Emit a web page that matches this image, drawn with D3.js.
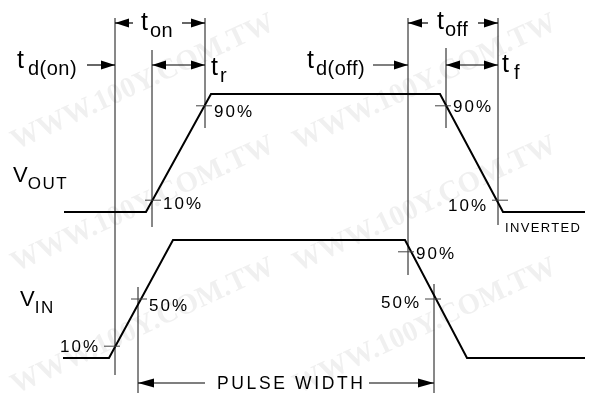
<!DOCTYPE html>
<html>
<head>
<meta charset="utf-8">
<script src="https://cdn.jsdelivr.net/npm/d3@7"></script>
<style>
  body { margin: 0; background: #fff; }
  svg { display: block; }
  text { font-family: "Liberation Sans", Arial, Helvetica, sans-serif; fill: #000; }
</style>
</head>
<body>
<script>
// waveform corners: time (arbitrary units) and normalised level 0..1
const voutTimes = [0, 16.4, 29.4, 75.2, 87.8, 104.2];
const voutLevels = [0, 0, 1, 1, 0, 0];
const vinTimes = [-0.2, 9, 21.8, 68.2, 80.6, 104.2];
const vinLevels = [0, 0, 1, 1, 0, 0];

// timing reference lines
const markerNames = ["tdon", "trStart", "tonEnd", "tdoff", "tfStart", "toffEnd", "pwStart", "pwEnd"];
const markerTimes = [10.2, 17.6, 28.2, 68.8, 76.4, 86.8, 14.8, 74];

// percentage ticks on the edges
const tickWave = ["out", "out", "out", "out", "in", "in", "in", "in"];
const tickLevel = [0.9, 0.1, 0.9, 0.1, 0.1, 0.5, 0.9, 0.5];
const tickTime = [28, 17.8, 75.8, 87.2, 9.6, 15, 68.4, 73.8];
const tickLabels = ["90%", "10%", "90%", "10%", "10%", "50%", "90%", "50%"];

const W = 590, H = 400;
const svg = d3.select("body").append("svg").attr("width", W).attr("height", H);

const x = d3.scaleLinear().domain([0, 104.2]).range([64, 585]);
const yOut = d3.scaleLinear().domain([0, 1]).range([212, 94]);
const yIn = d3.scaleLinear().domain([0, 1]).range([358, 240]);
const yOf = w => w === "out" ? yOut : yIn;
const mt = name => x(markerTimes[markerNames.indexOf(name)]);

// faint site watermark, kept whole inside the frame
const wm = svg.append("g").attr("opacity", 0.06);
[[16, 150], [298, 150], [16, 272], [298, 272], [16, 394], [298, 394]].forEach(([wx, wy]) => {
  wm.append("text")
    .attr("transform", `translate(${wx},${wy}) rotate(-25)`)
    .style("font-family", '"Liberation Serif", "Times New Roman", serif')
    .style("font-weight", "bold")
    .style("font-size", "29px")
    .text("WWW.100Y.COM.TW");
});

// vertical reference lines (top, bottom in px)
const markerSpan = {
  tdon: [18, 375], trStart: [50, 227], tonEnd: [18, 128], tdoff: [18, 275],
  tfStart: [48, 128], toffEnd: [18, 225], pwStart: [287, 393], pwEnd: [284, 393]
};
svg.append("g").selectAll("line")
  .data(markerNames)
  .join("line")
  .attr("x1", d => mt(d)).attr("x2", d => mt(d))
  .attr("y1", d => markerSpan[d][0]).attr("y2", d => markerSpan[d][1])
  .attr("stroke", "#111").attr("stroke-width", 1);

// waveforms
const line = d3.line();
svg.append("path")
  .attr("d", line(voutTimes.map((t, i) => [x(t), yOut(voutLevels[i])])))
  .attr("fill", "none").attr("stroke", "#000").attr("stroke-width", 2);
svg.append("path")
  .attr("d", line(vinTimes.map((t, i) => [x(t), yIn(vinLevels[i])])))
  .attr("fill", "none").attr("stroke", "#000").attr("stroke-width", 2);

// ticks + labels
const tickHalf = 8;
const labelSide = ["r", "r", "r", "l", "l", "r", "r", "l"];
const labelDy = [11, 9, 6, 11, 6, 12, 7, 9];
const ticks = svg.append("g");
tickTime.forEach((t, i) => {
  const cx = x(t), cy = yOf(tickWave[i])(tickLevel[i]);
  ticks.append("line")
    .attr("x1", cx - tickHalf).attr("x2", cx + tickHalf)
    .attr("y1", cy).attr("y2", cy)
    .attr("stroke", "#444").attr("stroke-width", 1);
  const right = labelSide[i] === "r";
  ticks.append("text")
    .attr("x", right ? cx + tickHalf + 2 : cx - tickHalf - 6 + 2)
    .attr("y", cy + labelDy[i])
    .attr("text-anchor", right ? "start" : "end")
    .style("font-size", "17px")
    .style("letter-spacing", "2px")
    .text(tickLabels[i]);
});

// arrows
const arrows = svg.append("g");
function head(tipX, y, dir, len = 14, hw = 4.5) {
  arrows.append("path")
    .attr("d", `M${tipX},${y}L${tipX - dir * len},${y - hw}L${tipX - dir * len},${y + hw}Z`)
    .attr("fill", "#000");
}
function shaft(x1, x2, y) {
  arrows.append("line").attr("x1", x1).attr("x2", x2).attr("y1", y).attr("y2", y)
    .attr("stroke", "#000").attr("stroke-width", 1.2);
}
// t_on and t_off: arrowheads pointing outward to the lines
shaft(mt("tdon"), 133, 23); head(mt("tdon"), 23, -1);
shaft(182, mt("tonEnd"), 23); head(mt("tonEnd"), 23, 1);
shaft(mt("tdoff"), 428, 23); head(mt("tdoff"), 23, -1);
shaft(478, mt("toffEnd"), 23); head(mt("toffEnd"), 23, 1);
// t_r and t_f: double headed
shaft(mt("trStart"), mt("tonEnd"), 65); head(mt("trStart"), 65, -1); head(mt("tonEnd"), 65, 1);
shaft(mt("tfStart"), mt("toffEnd"), 65); head(mt("tfStart"), 65, -1); head(mt("toffEnd"), 65, 1);
// delay pointers
shaft(87, mt("tdon"), 65); head(mt("tdon"), 65, 1);
shaft(373, mt("tdoff"), 65); head(mt("tdoff"), 65, 1);
// pulse width
shaft(mt("pwStart"), 205, 383); head(mt("pwStart"), 383, -1, 16, 4.5);
shaft(369, mt("pwEnd"), 383); head(mt("pwEnd"), 383, 1, 16, 4.5);

// timing labels: t with subscript
const tLabels = [
  { x: 141, y: 30, sub: "on", dx: 2 },
  { x: 17, y: 68, sub: "d(on)", dx: 4 },
  { x: 211, y: 75, sub: "r", dx: 2 },
  { x: 307, y: 68, sub: "d(off)", dx: 2 },
  { x: 437, y: 29, sub: "off", dx: 1 },
  { x: 502, y: 72, sub: "f", dx: 5 }
];
tLabels.forEach(l => {
  const t = svg.append("text").attr("x", l.x).attr("y", l.y).style("font-size", "25px");
  t.append("tspan").text("t");
  t.append("tspan").attr("dx", l.dx).attr("dy", 7)
    .style("font-size", "20px").style("letter-spacing", "0.5px").text(l.sub);
});

// signal names
function sigLabel(xp, y, main, sub) {
  const t = svg.append("text").attr("x", xp).attr("y", y).style("font-size", "22px");
  t.append("tspan").text(main);
  t.append("tspan").attr("dx", 0).attr("dy", 7)
    .style("font-size", "17px").style("letter-spacing", "1.5px").text(sub);
}
sigLabel(13, 182, "V", "OUT");
sigLabel(20, 306, "V", "IN");

svg.append("text").attr("x", 217).attr("y", 389)
  .attr("textLength", 146).attr("lengthAdjust", "spacing")
  .style("font-size", "17.5px").text("PULSE WIDTH");
svg.append("text").attr("x", 505).attr("y", 232)
  .attr("textLength", 75).attr("lengthAdjust", "spacing")
  .style("font-size", "13px").text("INVERTED");
</script>
</body>
</html>
